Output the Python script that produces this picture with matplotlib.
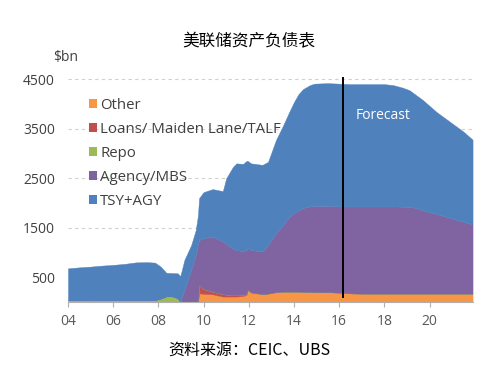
import matplotlib
matplotlib.use("Agg")
import matplotlib.pyplot as plt
from matplotlib.patches import Patch

plt.rcParams['font.family'] = ['Open Sans', 'Noto Sans CJK SC', 'DejaVu Sans']

# dates as fractional years
dates = [2004.0, 2004.5, 2005.0, 2005.5, 2006.0, 2006.5, 2007.0, 2007.5, 2007.85,
         2008.1, 2008.35, 2008.6, 2008.85, 2008.97, 2009.15, 2009.45, 2009.65, 2009.75,
         2009.8, 2010.0, 2010.4, 2010.85, 2011.0, 2011.3, 2011.45, 2011.75, 2011.9,
         2011.95, 2012.1, 2012.6, 2012.85, 2013.2, 2013.5, 2013.8, 2014.0, 2014.2,
         2014.4, 2014.7, 2014.9, 2015.5, 2016.0, 2016.5, 2017.0, 2017.5, 2018.0,
         2018.4, 2018.8, 2019.1, 2019.4, 2019.7, 2020.0, 2020.3, 2020.6, 2020.9,
         2021.2, 2021.5, 2021.9]

# $bn, one value per date
other = [0, 0, 0, 0, 0, 0, 0, 0, 0,
         0, 0, 0, 0, 0, 0, 0, 0, 0,
         175, 165, 155, 110, 110, 110, 110, 120, 150,
         240, 190, 160, 170, 200, 210, 210, 210, 210,
         205, 205, 200, 200, 190, 175, 170, 170, 170,
         170, 170, 170, 170, 170, 170, 170, 170, 170,
         170, 170, 170]
loans = [0, 0, 0, 0, 0, 0, 0, 0, 0,
         0, 0, 0, 0, 0, 0, 0, 0, 0,
         165, 100, 55, 50, 40, 30, 30, 30, 15,
         10, 5, 0, 0, 0, 0, 0, 0, 0,
         0, 0, 0, 0, 0, 0, 0, 0, 0,
         0, 0, 0, 0, 0, 0, 0, 0, 0,
         0, 0, 0]
repo = [35, 35, 40, 35, 35, 35, 40, 35, 40,
        70, 115, 115, 80, 0, 0, 0, 0, 0,
        0, 0, 0, 0, 0, 0, 0, 0, 0,
        0, 0, 0, 0, 0, 0, 0, 0, 0,
        0, 0, 0, 0, 0, 0, 0, 0, 0,
        0, 0, 0, 0, 0, 0, 0, 0, 0,
        0, 0, 0]
agency = [0, 0, 0, 0, 0, 0, 0, 0, 0,
          0, 0, 0, 0, 0, 250, 650, 950, 1150,
          910, 1025, 1110, 1060, 1020, 940, 910, 870, 885,
          850, 855, 860, 980, 1190, 1340, 1510, 1590, 1640,
          1695, 1725, 1740, 1740, 1740, 1755, 1760, 1760, 1760,
          1760, 1755, 1750, 1730, 1680, 1640, 1610, 1570, 1530,
          1490, 1450, 1400]
tsy = [645, 665, 675, 700, 715, 735, 760, 770, 755,
       645, 475, 470, 500, 525, 600, 500, 500, 600,
       850, 930, 960, 1020, 1330, 1650, 1750, 1770, 1800,
       1750, 1750, 1750, 1680, 1880, 2000, 2130, 2240, 2350,
       2400, 2450, 2470, 2480, 2480, 2470, 2470, 2470, 2470,
       2450, 2405, 2360, 2280, 2230, 2150, 2060, 2000, 1940,
       1880, 1820, 1710]

labels = ["Other", "Loans/ Maiden Lane/TALF", "Repo", "Agency/MBS", "TSY+AGY"]
colors = ["#F79646", "#C0504D", "#9BBB59", "#8064A2", "#4F81BD"]

xticks = [2004, 2006, 2008, 2010, 2012, 2014, 2016, 2018, 2020]
xticklabels = ["04", "06", "08", "10", "12", "14", "16", "18", "20"]
yticks = [500, 1500, 2500, 3500, 4500]
forecast_start = 2016.17

fig = plt.figure(figsize=(5.02, 3.84), dpi=100)
ax = fig.add_axes([68 / 502, 1 - 302 / 384, 405 / 502, (302 - 69.3) / 384])

polys = ax.stackplot(dates, other, loans, repo, agency, tsy, colors=colors, labels=labels, zorder=2)
for p, c in zip(polys, colors):
    p.set_edgecolor(c)
    p.set_linewidth(0.3)

ax.set_xlim(2004, 2021.92)
ax.set_ylim(0, 4700)

for y in yticks:
    ax.axhline(y, color="#d0d0d0", lw=0.8, ls=(0, (3, 3)), zorder=1)

ax.plot([forecast_start, forecast_start], [100, 4525], color="black", lw=1.4, zorder=3)
ax.text(2017.92, 3757, "Forecast", color="white", fontsize=10, ha="center", va="center", zorder=4)

for s in ["top", "right", "left"]:
    ax.spines[s].set_visible(False)
ax.spines["bottom"].set_color("#b0b0b0")
ax.spines["bottom"].set_zorder(5)

ax.set_xticks(xticks)
ax.set_xticklabels(xticklabels)
ax.set_yticks(yticks)
ax.tick_params(axis="x", length=3.5, width=0.8, color="#b0b0b0", pad=5, labelsize=10, labelcolor="#595959")
ax.tick_params(axis="y", length=0, pad=9.5, labelsize=10, labelcolor="#404040")

fig.text(66 / 502, 1 - 57 / 384, "$bn", fontsize=10, color="#404040", ha="center", va="center")
fig.text(249 / 502, 1 - 42 / 384, "美联储资产负债表", fontsize=12, ha="center", va="center",
         family=["Noto Sans CJK SC", "DejaVu Sans"], fontweight="light")
fig.text(249.5 / 502, 1 - 350 / 384, "资料来源：CEIC、UBS", fontsize=11.5, ha="center", va="center",
         family=["Noto Sans CJK SC", "DejaVu Sans"], fontweight="light")

handles = [Patch(facecolor=c, edgecolor="none") for c in colors]
fig.legend(handles, labels, loc="upper left", bbox_to_anchor=(89 / 502, 1 - 98 / 384),
           frameon=False, fontsize=10.8, handlelength=0.5, handleheight=0.5,
           handletextpad=0.25, labelspacing=0.6, borderpad=0, borderaxespad=0,
           labelcolor="#404040")

fig.savefig("out.png", dpi=100)
